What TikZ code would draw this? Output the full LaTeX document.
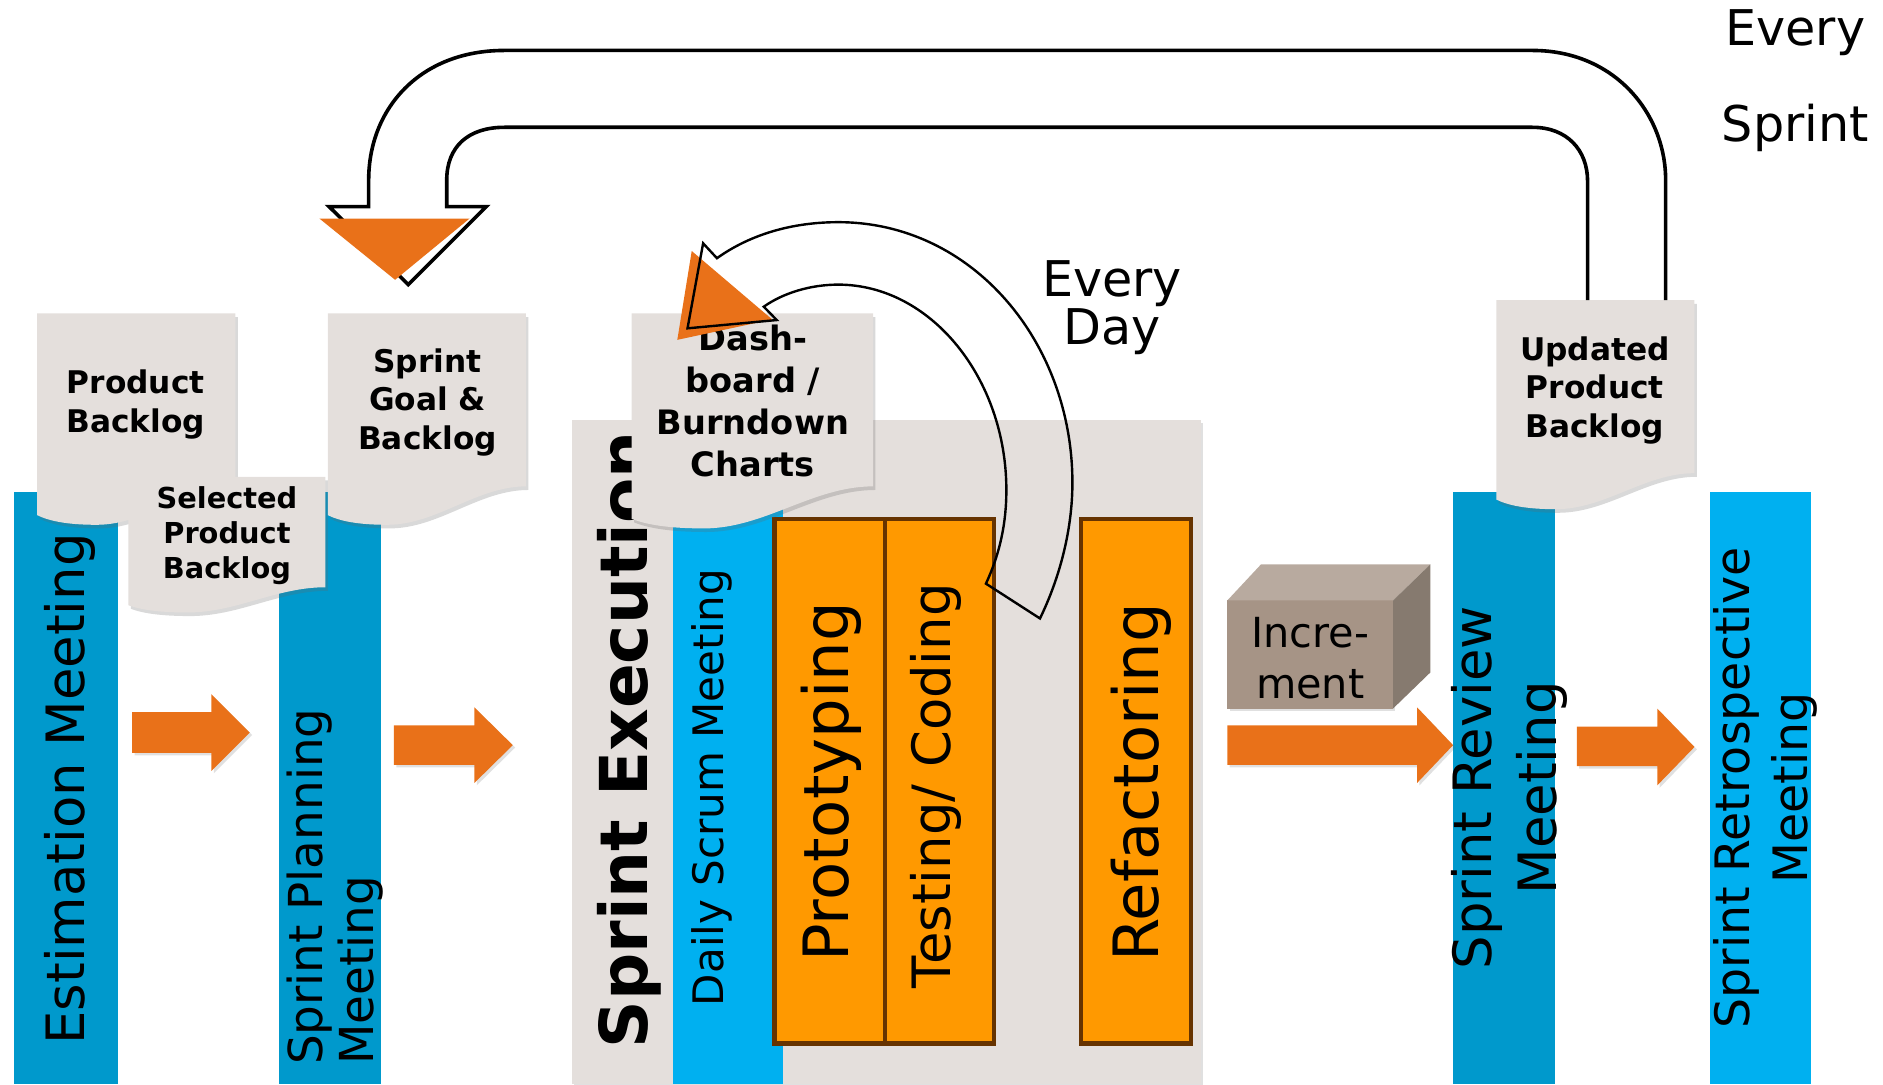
\documentclass[tikz,border=0pt]{standalone}
\usepackage{fontspec}
\setmainfont{DejaVu Sans}
\usetikzlibrary{shadows}
\definecolor{darkblue}{RGB}{0,153,204}
\definecolor{lightblue}{RGB}{0,176,240}
\definecolor{arroworange}{RGB}{233,113,25}
\definecolor{boxorange}{RGB}{255,153,0}
\definecolor{boxborder}{RGB}{102,51,0}
\definecolor{docgray}{RGB}{228,223,220}
\definecolor{cubefront}{RGB}{166,148,134}
\definecolor{cubetop}{RGB}{184,170,159}
\definecolor{cubeside}{RGB}{134,122,111}
\newcommand{\fs}[2]{\fontsize{#1}{#2}\selectfont\lineskiplimit=-100pt\relax}
\begin{document}
\begin{tikzpicture}[x=1pt,y=-1pt,
  bar/.style={inner sep=0pt, outer sep=0pt, anchor=north west},
  vtext/.style={rotate=90, inner sep=0pt, anchor=west},
  doctext/.style={align=center, inner sep=0pt},
  docshape/.style={fill=docgray, drop shadow={shadow xshift=2pt, shadow yshift=-3pt, opacity=0.25, fill=black!60}},
  docpath/.style n args={6}{insert path={(#1,#3) -- (#2,#3) -- (#2,#5) .. controls ({#2-0.25*(#2-#1)},#5) and ({#1+0.55*(#2-#1)},{#4+#6}) .. ({#1+0.3*(#2-#1)},{#4+#6}) .. controls ({#1+0.15*(#2-#1)},{#4+#6}) and ({#1+0.06*(#2-#1)},{#4+0.6*#6}) .. (#1,#4) -- cycle}},
  blockarrow/.style={fill=arroworange, drop shadow={shadow xshift=2pt, shadow yshift=-2pt, opacity=0.2, fill=black!60}},
  workbox/.style={fill=boxorange, draw=boxborder, line width=3.5pt, inner sep=0pt, outer sep=0pt, anchor=north west},
  loopline/.style={draw=black, line width=3pt, line join=miter},
  dayline/.style={draw=black, line width=2pt, line join=miter},
]
\useasboundingbox (0,0) rectangle (1568,903);

% sprint execution background
\node[bar, fill=docgray, minimum width=524, minimum height=553, drop shadow={shadow xshift=2pt, shadow yshift=-2pt, opacity=0.2, fill=black!60}] (execbg) at (476,350) {};

% meeting bars
\node[bar, fill=darkblue, minimum width=86, minimum height=493] (estbar) at (12,410) {};
\node[bar, fill=darkblue, minimum width=85, minimum height=493] (planbar) at (232,410) {};
\node[bar, fill=lightblue, minimum width=92, minimum height=483] (scrumbar) at (560,420) {};
\node[bar, fill=darkblue, minimum width=85, minimum height=493] (reviewbar) at (1210,410) {};
\node[bar, fill=lightblue, minimum width=84, minimum height=493] (retrobar) at (1424,410) {};

% bar texts
\node[vtext, font=\fs{44}{48}] (esttext) at (58,870) {Estimation Meeting};
\node[vtext, font=\fs{39}{43}, align=left] (plantext) at (279,887) {Sprint Planning\\Meeting};
\node[vtext, font=\bfseries\fs{55}{60}] (exectext) at (524,873) {Sprint Execution};
\node[vtext, font=\fs{35}{40}] (scrumtext) at (593,838) {Daily Scrum Meeting};
\node[rotate=90, inner sep=0pt, align=center, font=\fs{44}{54}] (reviewtext) at (1257,656) {Sprint Review\\Meeting};
\node[rotate=90, inner sep=0pt, align=center, font=\fs{39.5}{48}] (retrotext) at (1470,656) {Sprint Retrospective\\Meeting};

% work boxes
\node[workbox, minimum width=92, minimum height=437] (protobox) at (645,432) {};
\node[workbox, minimum width=91, minimum height=437] (testbox) at (737,432) {};
\node[workbox, minimum width=92, minimum height=437] (refacbox) at (900,432) {};
\node[vtext, font=\fs{52}{56}] (prototext) at (692,801) {Prototyping};
\node[vtext, font=\fs{44}{48}] (testtext) at (779,823) {Testing/ Coding};
\node[vtext, font=\fs{52}{56}] (refactext) at (950,801) {Refactoring};

% block arrows
\path[blockarrow] (110,593) -- (176,593) -- (176,578) -- (208,610) -- (176,642) -- (176,627) -- (110,627) -- cycle;
\path[blockarrow] (328,604) -- (395,604) -- (395,589) -- (427,620.5) -- (395,652) -- (395,637) -- (328,637) -- cycle;
\path[blockarrow] (1022,604) -- (1180,604) -- (1180,589) -- (1210,620.5) -- (1180,652) -- (1180,637) -- (1022,637) -- cycle;
\path[blockarrow] (1313,605) -- (1380,605) -- (1380,590) -- (1411,622) -- (1380,654) -- (1380,638) -- (1313,638) -- cycle;

% increment cube
\fill[cubefront, drop shadow={shadow xshift=2pt, shadow yshift=-2pt, opacity=0.2, fill=black!60}] (1022,500) rectangle (1160,590);
\fill[cubetop] (1022,500) -- (1050,470) -- (1191,470) -- (1160,500) -- cycle;
\fill[cubeside] (1160,500) -- (1191,470) -- (1191,560) -- (1160,590) -- cycle;
\node[align=center, inner sep=0pt, font=\fs{34.5}{42}] (inctext) at (1091,548) {Incre-\\ment};

% documents
\path[docshape, docpath={31}{196}{261}{429}{405}{8}];
\node[doctext, font=\bfseries\fs{26}{32}] (pbtext) at (113,337) {Product\\Backlog};
\path[docshape, docpath={107}{271}{397}{504}{489}{6}];
\node[doctext, font=\bfseries\fs{24}{29}] (selectedtext) at (189,446) {Selected\\Product\\Backlog};
\path[docshape, docpath={273}{438}{261}{429}{405}{8}];
\node[doctext, font=\bfseries\fs{26}{32}] (goaltext) at (356,335) {Sprint\\Goal \&\\Backlog};
\path[docshape, docpath={526}{727}{261}{432}{405}{8}];
\node[doctext, font=\bfseries\fs{28}{35}] (dashtext) at (627,334) {Dash-\\board /\\Burndown\\Charts};
\path[docshape, docpath={1246}{1411}{250}{416}{394}{8}];
\node[doctext, font=\bfseries\fs{26}{32}] (updtext) at (1328,325) {Updated\\Product\\Backlog};

% every sprint loop arrow
\path[loopline] (1387,250) -- (1387,150) .. controls (1387,95) and (1345,42) .. (1276,42) -- (420,42) .. controls (350,42) and (307,90) .. (307,150) -- (307,172) -- (274,172) -- (340,237) -- (405,172) -- (372,172) -- (372,150) .. controls (372,122) and (390,106) .. (420,106) -- (1276,106) .. controls (1305,106) and (1322,125) .. (1322,151) -- (1322,250);
\fill[arroworange] (266,182) -- (391,182) -- (329,233) -- cycle;

% every day arrow
\fill[arroworange] (576,209) -- (564,283) -- (643,266) -- cycle;
\path[dayline] (866,515) .. controls (883,480) and (893,440) .. (893,402) .. controls (893,285) and (810,185) .. (698,185) .. controls (660,185) and (625,195) .. (597,215) -- (585.5,202.6) -- (572.5,273.4) -- (646.8,266.5) -- (636,255.4) .. controls (652,244) and (675,237) .. (698,237) .. controls (775,237) and (838,315) .. (838,408) .. controls (838,435) and (833,460) .. (821,486) -- cycle;

% labels
\node[align=center, inner sep=0pt, font=\fs{41}{80}] (everysprint) at (1495,67) {Every\\Sprint};
\node[align=center, inner sep=0pt, font=\fs{41}{40}] (everyday) at (926,256) {Every\\Day};
\end{tikzpicture}
\end{document}
